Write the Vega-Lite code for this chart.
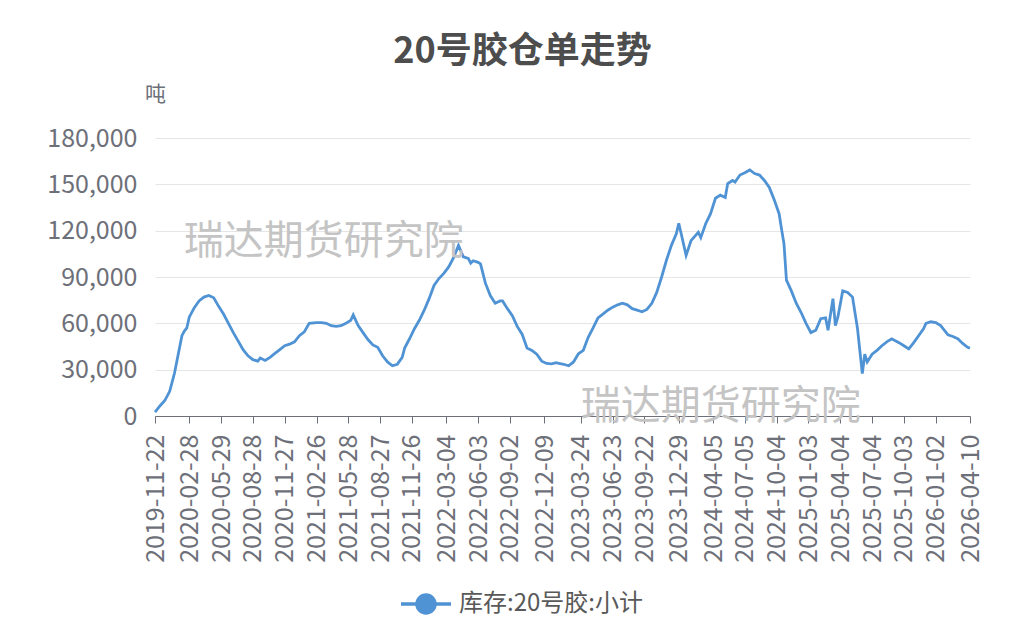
{
  "$schema": "https://vega.github.io/schema/vega-lite/v6.json",
  "autosize": "none",
  "width": 815,
  "height": 278,
  "padding": {"left": 155, "top": 138, "right": 48, "bottom": 226},
  "background": "white",
  "title": {
    "text": "20号胶仓单走势",
    "anchor": "middle",
    "dx": -40,
    "offset": -24,
    "baseline": "bottom",
    "fontSize": 36,
    "fontWeight": "bold",
    "color": "#4d4d4d",
    "font": "Noto Sans CJK SC"
  },
  "datasets": {
    "stock": [
      {"date": "2019-11-22", "value": 2500},
      {"date": "2019-12-06", "value": 6500},
      {"date": "2019-12-20", "value": 10000},
      {"date": "2020-01-03", "value": 16000},
      {"date": "2020-01-10", "value": 22000},
      {"date": "2020-01-17", "value": 28000},
      {"date": "2020-02-07", "value": 52000},
      {"date": "2020-02-14", "value": 55000},
      {"date": "2020-02-21", "value": 57000},
      {"date": "2020-02-28", "value": 64000},
      {"date": "2020-03-13", "value": 70000},
      {"date": "2020-03-27", "value": 74500},
      {"date": "2020-04-10", "value": 77000},
      {"date": "2020-04-24", "value": 78000},
      {"date": "2020-05-08", "value": 76500},
      {"date": "2020-05-22", "value": 71000},
      {"date": "2020-06-05", "value": 66000},
      {"date": "2020-06-19", "value": 60000},
      {"date": "2020-07-03", "value": 54000},
      {"date": "2020-07-17", "value": 48500},
      {"date": "2020-07-31", "value": 43000},
      {"date": "2020-08-14", "value": 39000},
      {"date": "2020-08-28", "value": 36500},
      {"date": "2020-09-11", "value": 35500},
      {"date": "2020-09-18", "value": 37500},
      {"date": "2020-10-02", "value": 36000},
      {"date": "2020-10-16", "value": 38000},
      {"date": "2020-10-30", "value": 40500},
      {"date": "2020-11-13", "value": 43000},
      {"date": "2020-11-27", "value": 45500},
      {"date": "2020-12-11", "value": 46500},
      {"date": "2020-12-25", "value": 48000},
      {"date": "2021-01-08", "value": 52000},
      {"date": "2021-01-22", "value": 54500},
      {"date": "2021-02-05", "value": 60000},
      {"date": "2021-02-26", "value": 60500},
      {"date": "2021-03-12", "value": 60500},
      {"date": "2021-03-26", "value": 60000},
      {"date": "2021-04-09", "value": 58500},
      {"date": "2021-04-23", "value": 58000},
      {"date": "2021-05-07", "value": 58500},
      {"date": "2021-05-21", "value": 60000},
      {"date": "2021-06-04", "value": 62000},
      {"date": "2021-06-11", "value": 65500},
      {"date": "2021-06-25", "value": 58500},
      {"date": "2021-07-09", "value": 54000},
      {"date": "2021-07-23", "value": 49500},
      {"date": "2021-08-06", "value": 46000},
      {"date": "2021-08-20", "value": 44500},
      {"date": "2021-09-03", "value": 39000},
      {"date": "2021-09-17", "value": 35000},
      {"date": "2021-10-01", "value": 32500},
      {"date": "2021-10-15", "value": 33500},
      {"date": "2021-10-29", "value": 38000},
      {"date": "2021-11-05", "value": 44000},
      {"date": "2021-11-19", "value": 50000},
      {"date": "2021-12-03", "value": 56500},
      {"date": "2021-12-17", "value": 62000},
      {"date": "2021-12-31", "value": 68500},
      {"date": "2022-01-14", "value": 76000},
      {"date": "2022-01-28", "value": 84500},
      {"date": "2022-02-11", "value": 89000},
      {"date": "2022-02-25", "value": 92300},
      {"date": "2022-03-11", "value": 96500},
      {"date": "2022-03-25", "value": 102500},
      {"date": "2022-04-08", "value": 110500},
      {"date": "2022-04-22", "value": 103000},
      {"date": "2022-05-06", "value": 102000},
      {"date": "2022-05-13", "value": 99000},
      {"date": "2022-05-20", "value": 100500},
      {"date": "2022-06-03", "value": 99500},
      {"date": "2022-06-10", "value": 98500},
      {"date": "2022-06-24", "value": 86000},
      {"date": "2022-07-08", "value": 78000},
      {"date": "2022-07-22", "value": 73000},
      {"date": "2022-08-05", "value": 74500},
      {"date": "2022-08-12", "value": 74500},
      {"date": "2022-08-26", "value": 69500},
      {"date": "2022-09-09", "value": 65000},
      {"date": "2022-09-23", "value": 58000},
      {"date": "2022-10-07", "value": 53000},
      {"date": "2022-10-21", "value": 44000},
      {"date": "2022-11-04", "value": 42500},
      {"date": "2022-11-18", "value": 40000},
      {"date": "2022-12-02", "value": 35500},
      {"date": "2022-12-16", "value": 34000},
      {"date": "2022-12-30", "value": 33800},
      {"date": "2023-01-13", "value": 34500},
      {"date": "2023-01-20", "value": 34000},
      {"date": "2023-02-03", "value": 33500},
      {"date": "2023-02-17", "value": 32500},
      {"date": "2023-03-03", "value": 35000},
      {"date": "2023-03-17", "value": 40300},
      {"date": "2023-03-31", "value": 42500},
      {"date": "2023-04-14", "value": 51000},
      {"date": "2023-04-28", "value": 57000},
      {"date": "2023-05-12", "value": 63500},
      {"date": "2023-05-26", "value": 66000},
      {"date": "2023-06-09", "value": 68500},
      {"date": "2023-06-23", "value": 70500},
      {"date": "2023-07-07", "value": 72000},
      {"date": "2023-07-21", "value": 73000},
      {"date": "2023-08-04", "value": 72000},
      {"date": "2023-08-18", "value": 69500},
      {"date": "2023-09-01", "value": 68500},
      {"date": "2023-09-15", "value": 67500},
      {"date": "2023-09-29", "value": 69000},
      {"date": "2023-10-13", "value": 73000},
      {"date": "2023-10-27", "value": 80000},
      {"date": "2023-11-10", "value": 90000},
      {"date": "2023-11-24", "value": 101000},
      {"date": "2023-12-08", "value": 110500},
      {"date": "2023-12-22", "value": 118000},
      {"date": "2023-12-29", "value": 124800},
      {"date": "2024-01-05", "value": 118000},
      {"date": "2024-01-19", "value": 104000},
      {"date": "2024-02-02", "value": 113500},
      {"date": "2024-02-23", "value": 119000},
      {"date": "2024-03-01", "value": 115500},
      {"date": "2024-03-15", "value": 124500},
      {"date": "2024-03-29", "value": 131000},
      {"date": "2024-04-12", "value": 141000},
      {"date": "2024-04-26", "value": 143000},
      {"date": "2024-05-10", "value": 141500},
      {"date": "2024-05-17", "value": 150500},
      {"date": "2024-05-31", "value": 152500},
      {"date": "2024-06-07", "value": 151500},
      {"date": "2024-06-21", "value": 156000},
      {"date": "2024-07-05", "value": 157500},
      {"date": "2024-07-19", "value": 159300},
      {"date": "2024-08-02", "value": 157000},
      {"date": "2024-08-16", "value": 156000},
      {"date": "2024-08-30", "value": 152500},
      {"date": "2024-09-13", "value": 148000},
      {"date": "2024-09-27", "value": 140000},
      {"date": "2024-10-11", "value": 131000},
      {"date": "2024-10-18", "value": 121000},
      {"date": "2024-10-25", "value": 111500},
      {"date": "2024-11-01", "value": 88000},
      {"date": "2024-11-15", "value": 81000},
      {"date": "2024-11-29", "value": 73000},
      {"date": "2024-12-13", "value": 67000},
      {"date": "2024-12-27", "value": 60000},
      {"date": "2025-01-10", "value": 54000},
      {"date": "2025-01-24", "value": 55500},
      {"date": "2025-02-07", "value": 63000},
      {"date": "2025-02-21", "value": 63500},
      {"date": "2025-02-28", "value": 55500},
      {"date": "2025-03-14", "value": 76000},
      {"date": "2025-03-21", "value": 58500},
      {"date": "2025-03-28", "value": 64000},
      {"date": "2025-04-11", "value": 81000},
      {"date": "2025-04-25", "value": 80000},
      {"date": "2025-05-09", "value": 77000},
      {"date": "2025-05-23", "value": 57000},
      {"date": "2025-06-06", "value": 27500},
      {"date": "2025-06-13", "value": 40000},
      {"date": "2025-06-20", "value": 35000},
      {"date": "2025-07-04", "value": 40000},
      {"date": "2025-07-18", "value": 42500},
      {"date": "2025-08-01", "value": 45500},
      {"date": "2025-08-15", "value": 48000},
      {"date": "2025-08-29", "value": 50000},
      {"date": "2025-09-19", "value": 47500},
      {"date": "2025-10-03", "value": 45500},
      {"date": "2025-10-17", "value": 43500},
      {"date": "2025-10-31", "value": 47500},
      {"date": "2025-11-14", "value": 52000},
      {"date": "2025-11-28", "value": 56500},
      {"date": "2025-12-05", "value": 60000},
      {"date": "2025-12-19", "value": 61000},
      {"date": "2026-01-02", "value": 60500},
      {"date": "2026-01-16", "value": 58500},
      {"date": "2026-01-23", "value": 56500},
      {"date": "2026-02-06", "value": 52500},
      {"date": "2026-02-20", "value": 51500},
      {"date": "2026-03-06", "value": 50000},
      {"date": "2026-03-20", "value": 47000},
      {"date": "2026-04-03", "value": 44500},
      {"date": "2026-04-10", "value": 44000}
    ]
  },
  "resolve": {"axis": {"x": "independent", "y": "independent"}},
  "layer": [
    {
      "data": {"name": "stock"},
      "mark": {"type": "line", "strokeWidth": 2.8, "interpolate": "linear"},
      "encoding": {
        "x": {
          "field": "date",
          "type": "temporal",
          "scale": {
            "type": "utc",
            "domain": [
              {"year": 2019, "month": 11, "date": 22, "utc": true},
              {"year": 2026, "month": 4, "date": 10, "utc": true}
            ]
          },
          "axis": {
            "title": null,
            "values": [
              {"year": 2019, "month": 11, "date": 22, "utc": true},
              {"year": 2020, "month": 2, "date": 28, "utc": true},
              {"year": 2020, "month": 5, "date": 29, "utc": true},
              {"year": 2020, "month": 8, "date": 28, "utc": true},
              {"year": 2020, "month": 11, "date": 27, "utc": true},
              {"year": 2021, "month": 2, "date": 26, "utc": true},
              {"year": 2021, "month": 5, "date": 28, "utc": true},
              {"year": 2021, "month": 8, "date": 27, "utc": true},
              {"year": 2021, "month": 11, "date": 26, "utc": true},
              {"year": 2022, "month": 3, "date": 4, "utc": true},
              {"year": 2022, "month": 6, "date": 3, "utc": true},
              {"year": 2022, "month": 9, "date": 2, "utc": true},
              {"year": 2022, "month": 12, "date": 9, "utc": true},
              {"year": 2023, "month": 3, "date": 24, "utc": true},
              {"year": 2023, "month": 6, "date": 23, "utc": true},
              {"year": 2023, "month": 9, "date": 22, "utc": true},
              {"year": 2023, "month": 12, "date": 29, "utc": true},
              {"year": 2024, "month": 4, "date": 5, "utc": true},
              {"year": 2024, "month": 7, "date": 5, "utc": true},
              {"year": 2024, "month": 10, "date": 4, "utc": true},
              {"year": 2025, "month": 1, "date": 3, "utc": true},
              {"year": 2025, "month": 4, "date": 4, "utc": true},
              {"year": 2025, "month": 7, "date": 4, "utc": true},
              {"year": 2025, "month": 10, "date": 3, "utc": true},
              {"year": 2026, "month": 1, "date": 2, "utc": true},
              {"year": 2026, "month": 4, "date": 10, "utc": true}
            ],
            "labelExpr": "utcFormat(datum.value, '%Y-%m-%d')",
            "labelAngle": -90,
            "labelFontSize": 25,
            "labelFont": "Noto Sans CJK SC",
            "labelColor": "#6e7079",
            "labelOverlap": false,
            "labelFlush": false,
            "labelPadding": 11,
            "tickSize": 7,
            "tickColor": "#6e7079",
            "domainColor": "#6e7079",
            "grid": false
          }
        },
        "y": {
          "field": "value",
          "type": "quantitative",
          "scale": {"domain": [0, 180000], "nice": false},
          "axis": {
            "values": [0, 30000, 60000, 90000, 120000, 150000, 180000],
            "labelExpr": "format(datum.value, ',')",
            "title": "吨",
            "titleAngle": 0,
            "titleX": 0,
            "titleY": -44,
            "titleAlign": "center",
            "titleBaseline": "middle",
            "titleFontSize": 21,
            "titleFontWeight": "normal",
            "titleFont": "Noto Sans CJK SC",
            "titleColor": "#6e7079",
            "labelFontSize": 25,
            "labelFont": "Noto Sans CJK SC",
            "labelColor": "#6e7079",
            "ticks": false,
            "tickSize": 0,
            "labelPadding": 18,
            "domain": false,
            "gridColor": "#e6e6e6",
            "gridWidth": 1
          }
        },
        "color": {
          "datum": "库存:20号胶:小计",
          "type": "nominal",
          "scale": {"range": ["#5093d4"]},
          "legend": {
            "title": null,
            "orient": "none",
            "legendX": 244,
            "legendY": 439,
            "direction": "horizontal",
            "symbolType": "M-1,0L1,0M0.36,0A0.36,0.36,0,1,1,-0.36,0A0.36,0.36,0,1,1,0.36,0Z",
            "symbolSize": 2500,
            "symbolStrokeWidth": 3.5,
            "symbolFillColor": "#5093d4",
            "symbolStrokeColor": "#5093d4",
            "labelFontSize": 24,
            "labelFont": "Noto Sans CJK SC",
            "labelColor": "#595959",
            "labelOffset": 6,
            "labelLimit": 0,
            "encode": {"symbols": {"update": {"fill": {"value": "#5093d4"}, "stroke": {"value": "#5093d4"}, "opacity": {"value": 1}}}}
          }
        }
      }
    },
    {
      "data": {"values": [{}]},
      "mark": {"type": "text", "text": "瑞达期货研究院", "align": "left", "baseline": "middle", "fontSize": 40, "color": "#c4c4c4", "font": "Noto Sans CJK SC"},
      "encoding": {
        "x": {"datum": {"year": 2020, "month": 2, "date": 12, "utc": true}, "type": "temporal", "axis": null},
        "y": {"datum": 112500, "type": "quantitative", "axis": null}
      }
    },
    {
      "data": {"values": [{}]},
      "mark": {"type": "text", "text": "瑞达期货研究院", "align": "left", "baseline": "middle", "fontSize": 40, "color": "#c4c4c4", "font": "Noto Sans CJK SC"},
      "encoding": {
        "x": {"datum": {"year": 2023, "month": 3, "date": 24, "utc": true}, "type": "temporal", "axis": null},
        "y": {"datum": 5800, "type": "quantitative", "axis": null}
      }
    }
  ],
  "config": {"view": {"stroke": null}}
}
